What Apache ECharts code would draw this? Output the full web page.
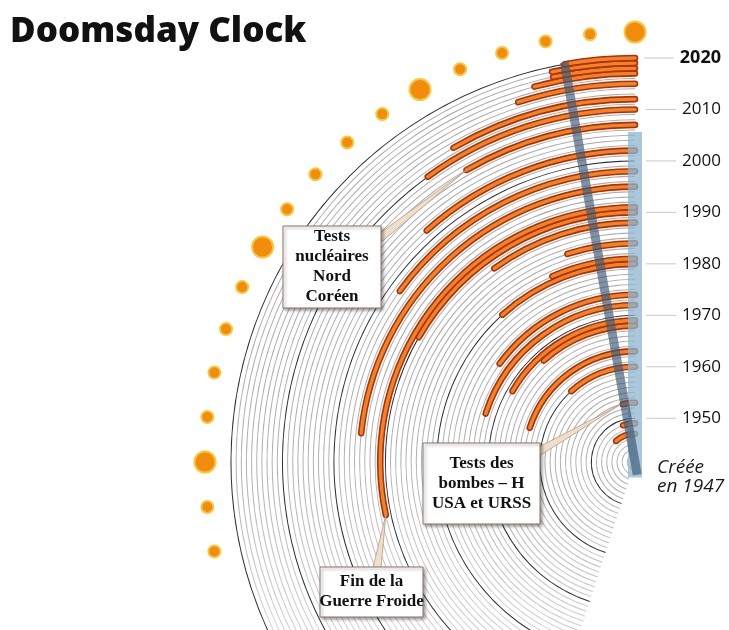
<!DOCTYPE html>
<html>
<head>
<meta charset="utf-8">
<title>Doomsday Clock</title>
<script src="https://cdn.jsdelivr.net/npm/echarts@6/dist/echarts.min.js"></script>
<style>
  html, body { margin: 0; padding: 0; background: #fff; }
  #main { width: 729px; height: 630px; }
</style>
</head>
<body>
<div id="main"></div>
<script>
// years the hand was moved, and the minutes to midnight set that year
const changeYears = [1947, 1949, 1953, 1960, 1963, 1968, 1969, 1972, 1974, 1980, 1981, 1984, 1988,
                     1990, 1991, 1995, 1998, 2002, 2007, 2010, 2012, 2015, 2017, 2018, 2019, 2020];
const minutesLeft = [7, 3, 2, 7, 12, 7, 10, 12, 9, 7, 4, 3, 6,
                     10, 17, 14, 9, 7, 5, 6, 5, 3, 2.5, 2, 2, 1.67];

// one thin ring per year (a few before 1947 fill the centre)
const ringYears = [];
for (let y = 1942; y <= 2020; y++) ringYears.push(String(y));
const decadeLabels = ['1950', '1960', '1970', '1980', '1990', '2000', '2010', '2020'];
const ringLength = 27; // minutes swept by the background rings

// minute marks round the rim, bigger every 5 minutes
const dotMinutes = [0, 1, 2, 3, 4, 5, 6, 7, 8, 9, 10, 11, 12, 13, 14, 15, 16, 17];
const bigDots = [0, 5, 10, 15];

const CX = 635, CY = 462;
const R_RINGS = 406.6, R_RIM = 430;
const band = R_RINGS / ringYears.length;
const firstRing = 1941.5;
const rimYear = firstRing + R_RIM / band;
const lastValue = minutesLeft[minutesLeft.length - 1];

const clockData = ringYears.map(y => {
  const i = changeYears.indexOf(+y);
  return i < 0 ? '-' : minutesLeft[i];
});
const ringGrey = {
  type: 'linear', x: 0, y: 0, x2: 0, y2: 630, global: true,
  colorStops: [{ offset: 0, color: '#a6a6a6' }, { offset: 0.75, color: '#b0b0b0' }, { offset: 1, color: '#d0d0d0' }]
};
const ringData = ringYears.map(y => ({
  value: ringLength,
  itemStyle: { color: (+y % 10 === 0) ? '#27303f' : ringGrey }
}));

const chart = echarts.init(document.getElementById('main'));

const angleAx = i => ({ polarIndex: i, type: 'value', min: 0, max: 60, startAngle: 90, clockwise: false, show: false });

chart.setOption({
  backgroundColor: '#fff',
  animation: false,
  title: {
    text: 'Doomsday Clock',
    left: 10, top: 15, padding: 0,
    textStyle: { fontFamily: 'Open Sans', fontSize: 35, fontWeight: 800, color: '#111' }
  },
  polar: [
    { center: [CX, CY], radius: [0, R_RINGS] },
    { center: [CX, CY], radius: [0, R_RINGS] },
    { center: [CX, CY], radius: [0, R_RIM] }
  ],
  angleAxis: [angleAx(0), angleAx(1), angleAx(2)],
  radiusAxis: [
    { polarIndex: 0, type: 'category', data: ringYears, show: false },
    {
      polarIndex: 1, type: 'category', data: ringYears,
      axisLine: { show: false }, axisTick: { show: false }, splitLine: { show: false },
      axisLabel: {
        interval: (i, v) => decadeLabels.includes(v),
        margin: -86,
        formatter: v => (v === '2020' ? '{t|}{g|}{b|' : '{t|}{g|}{n|') + v + '}',
        rich: {
          t: { width: 30, height: 1, backgroundColor: '#c8c8c8' },
          g: { width: 6 },
          n: { fontFamily: 'Open Sans', fontSize: 17, color: '#111' },
          b: { fontFamily: 'Open Sans', fontSize: 18, fontWeight: 'bold', color: '#111' }
        }
      }
    },
    { polarIndex: 2, type: 'value', min: firstRing, max: rimYear, show: false }
  ],
  series: [
    {
      name: 'rings', type: 'bar', coordinateSystem: 'polar', polarIndex: 0,
      barWidth: 1, data: ringData, silent: true, z: 1
    },
    {
      name: 'minutes', type: 'bar', coordinateSystem: 'polar', polarIndex: 1,
      barWidth: 5, roundCap: true, data: clockData, z: 3,
      itemStyle: { color: '#f08424', borderColor: '#b02f0b', borderWidth: 1.6 }
    },
    {
      name: 'axis', type: 'line', coordinateSystem: 'polar', polarIndex: 2,
      data: [[1944.5, 30], [2005.6, 0]], symbol: 'none', z: 4, silent: true,
      lineStyle: { width: 14, color: 'rgba(140,182,208,0.75)' }
    },
    {
      name: 'hand', type: 'line', coordinateSystem: 'polar', polarIndex: 2,
      data: [[1944, 30 + lastValue], [2020.4, lastValue]], symbol: 'none', z: 5, silent: true,
      lineStyle: { width: 9, color: 'rgba(58,88,118,0.65)' }
    },
    {
      name: 'rim', type: 'scatter', coordinateSystem: 'polar', polarIndex: 2, z: 6,
      data: dotMinutes.map(m => [rimYear, m]),
      symbolSize: (v) => bigDots.includes(v[1]) ? 21 : 12,
      itemStyle: { color: '#f28c0c', borderColor: '#f9c53a', borderWidth: 2, opacity: 1 }
    }
  ]
});

// annotation boxes with a pointer to the arc they talk about
const notes = [
  { lines: 'Tests\nnucléaires\nNord\nCoréen', box: [283, 226, 98, 82], from: [380, 238], year: 2007, min: 5 },
  { lines: 'Tests des\nbombes – H\nUSA et URSS', box: [423, 443, 117, 81], from: [538, 452], year: 1953, min: 2.4 },
  { lines: 'Fin de la\nGuerre Froide', box: [320, 567, 103, 50], from: [377, 568], year: 1991, min: 17 }
];

const graphics = [];
notes.forEach(n => {
  const p = chart.convertToPixel({ polarIndex: 2 }, [n.year, n.min]);
  const dx = p[0] - n.from[0], dy = p[1] - n.from[1];
  const len = Math.sqrt(dx * dx + dy * dy);
  const nx = -dy / len * 4, ny = dx / len * 4;
  graphics.push({
    type: 'polygon', z: 100,
    shape: { points: [[n.from[0] + nx, n.from[1] + ny], [n.from[0] - nx, n.from[1] - ny], p] },
    style: { fill: '#eedfcc', stroke: '#b59a80', lineWidth: 0.8 }
  });
  graphics.push({
    type: 'rect', z: 101,
    shape: { x: n.box[0], y: n.box[1], width: n.box[2], height: n.box[3] },
    style: { fill: '#fff', stroke: '#8a7767', lineWidth: 1,
             shadowBlur: 3, shadowOffsetX: 2, shadowOffsetY: 2, shadowColor: 'rgba(0,0,0,0.35)' }
  });
  graphics.push({
    type: 'text', z: 102,
    x: n.box[0] + n.box[2] / 2, y: n.box[1] + n.box[3] / 2,
    style: { text: n.lines, align: 'center', verticalAlign: 'middle', lineHeight: 20,
             font: 'bold 17px "Liberation Serif"', fill: '#111' }
  });
});
graphics.push({
  type: 'text', z: 102, x: 657, y: 458,
  style: { text: 'Créée\nen 1947', lineHeight: 19, font: 'italic 19px "Open Sans"', fill: '#1a1a1a' }
});

chart.setOption({ graphic: graphics });
</script>
</body>
</html>
